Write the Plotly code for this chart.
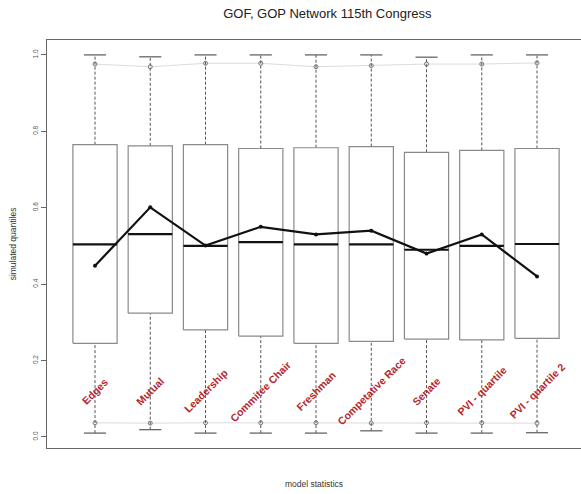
import plotly.graph_objects as go

categories = ["Edges", "Mutual", "Leadership", "Commitee Chair", "Freshman",
              "Competative Race", "Senate", "PVI - quartile", "PVI - quartile 2"]
upper_whisker = [1.0, 0.995, 1.0, 1.0, 1.0, 1.0, 0.994, 1.0, 1.0]
q3 = [0.765, 0.762, 0.765, 0.755, 0.757, 0.760, 0.745, 0.750, 0.755]
median = [0.504, 0.531, 0.500, 0.510, 0.504, 0.504, 0.490, 0.500, 0.505]
q1 = [0.245, 0.324, 0.280, 0.264, 0.245, 0.250, 0.256, 0.254, 0.258]
lower_whisker = [0.010, 0.019, 0.010, 0.010, 0.010, 0.016, 0.010, 0.010, 0.011]
observed = [0.448, 0.601, 0.501, 0.550, 0.530, 0.540, 0.480, 0.530, 0.420]
upper_ci = [0.976, 0.969, 0.978, 0.978, 0.969, 0.972, 0.976, 0.976, 0.979]
lower_ci = [0.037, 0.036, 0.037, 0.037, 0.037, 0.036, 0.037, 0.037, 0.036]
y_ticks = [0.0, 0.2, 0.4, 0.6, 0.8, 1.0]

xs = list(range(1, len(categories) + 1))
hw = 0.4   # half box width
sw = 0.2   # half staple width

def segs(pairs):
    X, Y = [], []
    for (x0, y0, x1, y1) in pairs:
        X += [x0, x1, None]
        Y += [y0, y1, None]
    return X, Y

fig = go.Figure()

# confidence band lines (light gray)
for band in (upper_ci, lower_ci):
    fig.add_trace(go.Scatter(x=xs, y=band, mode="lines+markers",
                             line=dict(color="#dcdcdc", width=1),
                             marker=dict(symbol="circle-open", size=4, color="#777777", line=dict(width=1)),
                             showlegend=False, hoverinfo="skip"))

# whiskers (dashed)
wx, wy = segs([(x, q3[i], x, upper_whisker[i]) for i, x in enumerate(xs)] +
              [(x, lower_whisker[i], x, q1[i]) for i, x in enumerate(xs)])
fig.add_trace(go.Scatter(x=wx, y=wy, mode="lines",
                         line=dict(color="#555555", width=1, dash="3px,2px"),
                         showlegend=False, hoverinfo="skip"))

# staples
sx, sy = segs([(x - sw, upper_whisker[i], x + sw, upper_whisker[i]) for i, x in enumerate(xs)] +
              [(x - sw, lower_whisker[i], x + sw, lower_whisker[i]) for i, x in enumerate(xs)])
fig.add_trace(go.Scatter(x=sx, y=sy, mode="lines",
                         line=dict(color="#666666", width=1.3),
                         showlegend=False, hoverinfo="skip"))

# boxes
bx, by = [], []
for i, x in enumerate(xs):
    bx += [x - hw, x + hw, x + hw, x - hw, x - hw, None]
    by += [q1[i], q1[i], q3[i], q3[i], q1[i], None]
fig.add_trace(go.Scatter(x=bx, y=by, mode="lines",
                         line=dict(color="#8a8a8a", width=1.2),
                         showlegend=False, hoverinfo="skip"))

# medians
mx, my = segs([(x - hw, median[i], x + hw, median[i]) for i, x in enumerate(xs)])
fig.add_trace(go.Scatter(x=mx, y=my, mode="lines",
                         line=dict(color="#111111", width=2.2),
                         showlegend=False, hoverinfo="skip"))

# observed statistics
fig.add_trace(go.Scatter(x=xs, y=observed, mode="lines+markers",
                         line=dict(color="#111111", width=2.2),
                         marker=dict(size=4, color="#111111"),
                         showlegend=False, hoverinfo="skip"))

# category labels
for i, x in enumerate(xs):
    fig.add_annotation(x=x, y=0.12, xref="x", yref="y", text="<b>" + categories[i] + "</b>",
                       textangle=-45, showarrow=False,
                       font=dict(family="Liberation Sans, Arial", size=10.5, color="#B5272D"))

fig.update_layout(
    width=581, height=494,
    margin=dict(l=47, r=0, t=40, b=46),
    paper_bgcolor="white", plot_bgcolor="white",
    title=dict(text="GOF, GOP Network 115th Congress", x=305 / 581, xanchor="center",
               y=1 - 13 / 494, yanchor="middle", xref="paper",
               font=dict(family="Liberation Sans, Arial", size=13, color="#222222")),
    font=dict(family="Liberation Sans, Arial", color="#333333"),
    xaxis=dict(range=[0.131, 9.796], showgrid=False, zeroline=False,
               showticklabels=False, ticks="", showline=True, mirror=True,
               linecolor="#666666", linewidth=1.3,
               title=dict(text="model statistics", font=dict(size=8.5, color="#333333"),
                          standoff=32)),
    yaxis=dict(range=[-0.029, 1.039], showgrid=False, zeroline=False,
               tickvals=y_ticks, ticktext=[f"{v:.1f}" for v in y_ticks],
               tickangle=-90, ticks="outside", ticklen=5, tickcolor="#666666",
               tickfont=dict(size=6.5, color="#555555"),
               showline=True, mirror=False, linecolor="#666666", linewidth=1.3,
               title=dict(text="simulated quantiles", font=dict(size=8.5, color="#333333"),
                          standoff=14)),
)

fig.write_html("out.html")
